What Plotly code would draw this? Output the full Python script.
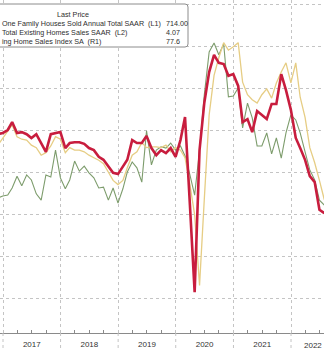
import plotly.graph_objects as go
import pandas as pd

# Monthly observations (month-end), Nov 2016 .. Jul 2022
dates = pd.date_range("2016-11-30", periods=69, freq="ME")

# New One Family Houses Sold, SAAR (thousands) - L1
new_home_sales = [
    638, 643, 645, 662, 690, 667, 693, 681, 648, 633, 693, 688, 752,
    686, 660, 681, 726, 702, 714, 698, 686, 662, 664, 633, 662,
    626, 660, 700, 724, 710, 676, 798, 717, 752, 760, 757, 769,
    752, 762, 738, 693, 645, 752, 883, 986, 1007, 979, 1005, 879,
    881, 900, 805, 864, 829, 762, 762, 793, 743, 781, 733, 793,
    836, 824, 793, 748, 705, 681, 633, 621,
]

# Total Existing Homes Sales, SAAR (millions) - L2
existing_home_sales = [
    5.62, 5.70, 5.79, 5.86, 5.72, 5.69, 5.68, 5.62, 5.59, 5.50, 5.53, 5.61, 5.72,
    5.69, 5.53, 5.59, 5.56, 5.56, 5.54, 5.50, 5.47, 5.44, 5.40, 5.30, 5.20,
    5.15, 5.20, 5.35, 5.50, 5.54, 5.65, 5.59, 5.60, 5.60, 5.59, 5.62, 5.54,
    5.59, 5.56, 5.47, 5.15, 4.79, 3.95, 4.97, 5.98, 6.45, 6.66, 6.84, 6.75,
    6.79, 6.84, 6.37, 6.22, 6.16, 6.12, 6.22, 6.29, 6.18, 6.36, 6.49, 6.60,
    6.36, 6.60, 6.19, 5.95, 5.59, 5.41, 5.20, 4.97,
]

# Pending Home Sales Index, SA - R1
pending_home_sales = [
    109.0, 109.3, 110.0, 111.9, 109.3, 109.5, 109.0, 108.1, 109.0, 106.7, 104.8, 109.0, 109.3,
    109.5, 105.7, 106.9, 107.1, 107.1, 106.7, 105.7, 105.2, 103.6, 102.9, 101.2, 99.8,
    99.5, 101.2, 102.9, 107.6, 106.9, 106.9, 108.6, 105.7, 104.0, 105.2, 104.5, 105.7,
    103.6, 107.6, 113.1, 92.1, 71.4, 105.2, 116.4, 123.8, 127.9, 126.0, 125.7, 122.9,
    123.3, 120.5, 111.9, 112.6, 109.5, 114.5, 113.6, 112.6, 116.2, 116.2, 123.3, 119.5,
    114.8, 108.1, 105.7, 102.9, 99.0, 97.6, 91.0, 90.2,
]

# legend texts as visible in the (cropped) chart
series_names = [
    "One Family Houses Sold Annual Total SAAR  (L1)",
    "Total Existing Homes Sales SAAR  (L2)",
    "ing Home Sales Index SA  (R1)",
]
last_prices = ["714.00", "4.07", "77.6"]
year_bounds = ["2017-01-01", "2018-01-01", "2019-01-01", "2020-01-01",
               "2021-01-01", "2022-01-01"]

W, H, B = 324, 350, 17
PH = H - B
FONT = "Liberation Sans"

fig = go.Figure()
fig.add_trace(go.Scatter(x=dates, y=new_home_sales, mode="lines", yaxis="y",
                         line=dict(color="#7d9c6c", width=1.1), name=series_names[0]))
fig.add_trace(go.Scatter(x=dates, y=existing_home_sales, mode="lines", yaxis="y2",
                         line=dict(color="#e6cd84", width=1.3), name=series_names[1]))
fig.add_trace(go.Scatter(x=dates, y=pending_home_sales, mode="lines", yaxis="y3",
                         line=dict(color="#c81d3e", width=2.6), name=series_names[2]))


def px(x):
    return x / W


def py(y):
    return 1 - y / PH


shapes = []
for d in year_bounds:
    shapes.append(dict(type="line", xref="x", yref="paper", x0=d, x1=d,
                       y0=0, y1=-B / PH, line=dict(color="#c4c4c4", width=1, dash="dot")))

# legend box (rounded rectangle)
x0, x1, y0, y1, r = -10, 188, 4, 47, 3
rx, ry = r / W, r / PH
path = (f"M {px(x0)},{py(y0)} L {px(x1)-rx},{py(y0)} Q {px(x1)},{py(y0)} {px(x1)},{py(y0)-ry} "
        f"L {px(x1)},{py(y1)+ry} Q {px(x1)},{py(y1)} {px(x1)-rx},{py(y1)} L {px(x0)},{py(y1)} Z")
shapes.append(dict(type="path", xref="paper", yref="paper", path=path,
                   line=dict(color="#8c8c8c", width=1), fillcolor="white", layer="above"))

ann = [dict(text="Last Price", x=px(73), y=py(15), xanchor="center", yanchor="middle")]
for i, (nm, val) in enumerate(zip(series_names, last_prices)):
    yy = 23.5 + 9 * i
    ann.append(dict(text=nm, x=px(0), y=py(yy), xanchor="left", yanchor="middle"))
    ann.append(dict(text=val, x=px(164), y=py(yy), xanchor="left", yanchor="middle"))
for a in ann:
    a.update(xref="paper", yref="paper", showarrow=False,
             font=dict(family=FONT, size=7.2, color="#2e2e2e"))
# last year label at the right edge of the crop
ann.append(dict(text="2022", x=px(323.5), xref="paper", y=-13 / PH, yref="paper",
                xanchor="right", yanchor="middle", showarrow=False,
                font=dict(family=FONT, size=8, color="#333333")))

fig.update_layout(
    width=W, height=H, margin=dict(l=0, r=0, t=0, b=B),
    paper_bgcolor="white", plot_bgcolor="white", showlegend=False,
    shapes=shapes, annotations=ann,
    xaxis=dict(range=["2016-12-13", "2022-07-29"], tick0="2017-01-01", dtick="M12",
               ticklabelmode="period", tickformat="%Y", ticks="",
               tickfont=dict(family=FONT, size=8, color="#333333"),
               showgrid=True, gridcolor="#c4c4c4", griddash="dot", gridwidth=1,
               showline=True, linecolor="#8a8a8a", linewidth=1, zeroline=False,
               ticklabelstandoff=3,
               minor=dict(ticks="inside", ticklen=3, tickcolor="#8a8a8a", dtick="M3",
                          tick0="2017-01-01", showgrid=False)),
    yaxis=dict(range=[316.67, 1109.52], tick0=0, dtick=100, showticklabels=False,
               ticks="", showgrid=True, gridcolor="#c4c4c4", griddash="dot",
               zeroline=False, showline=False),
    yaxis2=dict(range=[3.3833, 7.3476], overlaying="y", side="left", showgrid=False,
                showticklabels=False, ticks="", zeroline=False, showline=False),
    yaxis3=dict(range=[61.667, 140.952], overlaying="y", side="right", showgrid=False,
                showticklabels=False, ticks="", zeroline=False, showline=False),
)

fig.write_html("out.html")
